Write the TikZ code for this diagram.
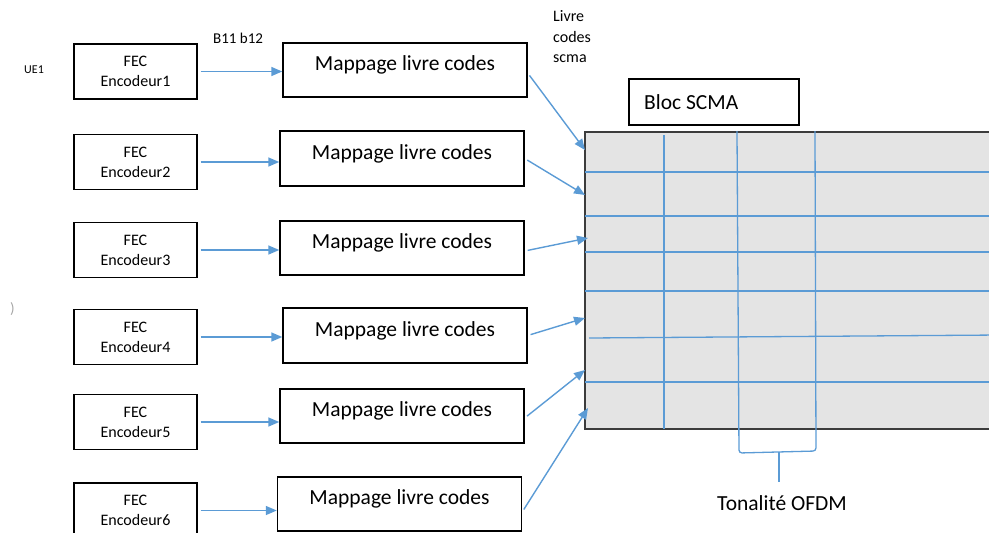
\documentclass[tikz,border=0pt]{standalone}
\usepackage{fontspec}
\setmainfont{Carlito}
\usetikzlibrary{arrows.meta,calc}
\definecolor{linkblue}{HTML}{5B9BD5}
\definecolor{cellgrey}{HTML}{E4E4E4}
\definecolor{framegrey}{HTML}{3C3C3C}

\begin{document}
\begin{tikzpicture}[x=1pt,y=-1pt,
  fecbox/.style={draw=black, line width=1.4pt, minimum width=123pt, minimum height=55pt,
    inner sep=0pt, align=center, font=\fontsize{16}{20}\selectfont},
  mapbox/.style={draw=black, line width=1.4pt, minimum width=244pt, minimum height=54pt, inner sep=0pt},
  maplabel/.style={font=\fontsize{21.5}{26}\selectfont, inner sep=0pt},
  plain/.style={inner sep=0pt, anchor=west},
  feed/.style={draw=linkblue, line width=1.4pt, shorten <=3pt, -{Triangle[length=11pt,width=9pt]}},
  gridline/.style={draw=linkblue, line width=1.3pt}]

\useasboundingbox (0,0) rectangle (989,533);

% SCMA resource grid
\draw[draw=framegrey, fill=cellgrey, line width=1.4pt] (585,132) rectangle (1000,429);
\draw[gridline] (585,172) -- (1000,172);
\draw[gridline] (585,216) -- (1000,216);
\draw[gridline] (585,252) -- (1000,252);
\draw[gridline] (585,291) -- (1000,291);
\draw[gridline] (589,338) -- (1000,335);
\draw[gridline] (585,382) -- (1000,382);
\draw[gridline] (664,135) -- (664,429);
% two tone columns, extended downwards into a bracket
\draw[gridline, rounded corners=3pt] (737,131) -- (739,453) -- (816,451) -- (815,131);
\draw[gridline] (779,452) -- (779,482);
\node[inner sep=0pt, font=\fontsize{21.5}{26}\selectfont] (tone) at (782,503) {Tonalité OFDM};

% Bloc SCMA title box
\node[draw=black, line width=1.4pt, minimum width=170pt, minimum height=46pt, inner sep=0pt] (bloc) at (714,102) {};
\node[plain, font=\fontsize{21.5}{26}\selectfont] (bloct) at (644,102) {Bloc SCMA};

% free texts
\node[plain, font=\fontsize{12}{14}\selectfont] (ue) at (24,70) {UE1};
\node[plain, font=\fontsize{15}{18}\selectfont] (bits) at (213,38) {B11 b12};
\node[plain, align=left, font=\fontsize{16}{20.5}\selectfont] (book) at (553,37) {Livre\\codes\\scma};
\node[plain, text=gray!70, font=\fontsize{15}{18}\selectfont] (paren) at (10,309) {)};

% FEC encoders
\node[fecbox] (f1) at (135.5,71.5) {FEC\\Encodeur1};
\node[fecbox] (f2) at (135.5,162) {FEC\\Encodeur2};
\node[fecbox] (f3) at (135.5,250) {FEC\\Encodeur3};
\node[fecbox] (f4) at (135.5,337) {FEC\\Encodeur4};
\node[fecbox] (f5) at (135.5,422) {FEC\\Encodeur5};
\node[fecbox] (f6) at (135.5,510.5) {FEC\\Encodeur6};

% codebook mapping blocks
\node[mapbox] (m1) at (405,70) {};
\node[mapbox, minimum height=55pt] (m2) at (402,158.5) {};
\node[mapbox] (m3) at (402,248) {};
\node[mapbox, minimum height=55pt] (m4) at (405,335.5) {};
\node[mapbox] (m5) at (402,416) {};
\node[mapbox] (m6) at (399.5,504) {};
\foreach \m in {m1,m2,m3,m4,m5,m6}
  \node[maplabel] (\m t) at ($(\m)+(0,-5)$) {Mappage livre codes};

% encoder -> mapping
\foreach \i in {1,...,6}
  \draw[feed] (f\i.east) -- (f\i.east -| m\i.west);

% mapping -> grid
\coordinate (g1) at (585,150);
\coordinate (g2) at (585,195);
\coordinate (g3) at (588,238);
\coordinate (g4) at (585,318);
\coordinate (g5) at (585,370);
\coordinate (g6) at (588,408);
\draw[feed] ([yshift=-3pt]m1.east) -- (g1);
\draw[feed] (m2.east) -- (g2);
\draw[feed] ([yshift=-3pt]m3.east) -- (g3);
\draw[feed] (m4.east) -- (g4);
\draw[feed] ([yshift=-2pt]m5.east) -- (g5);
\draw[feed] ([yshift=-8pt]m6.east) -- (g6);
\end{tikzpicture}
\end{document}
